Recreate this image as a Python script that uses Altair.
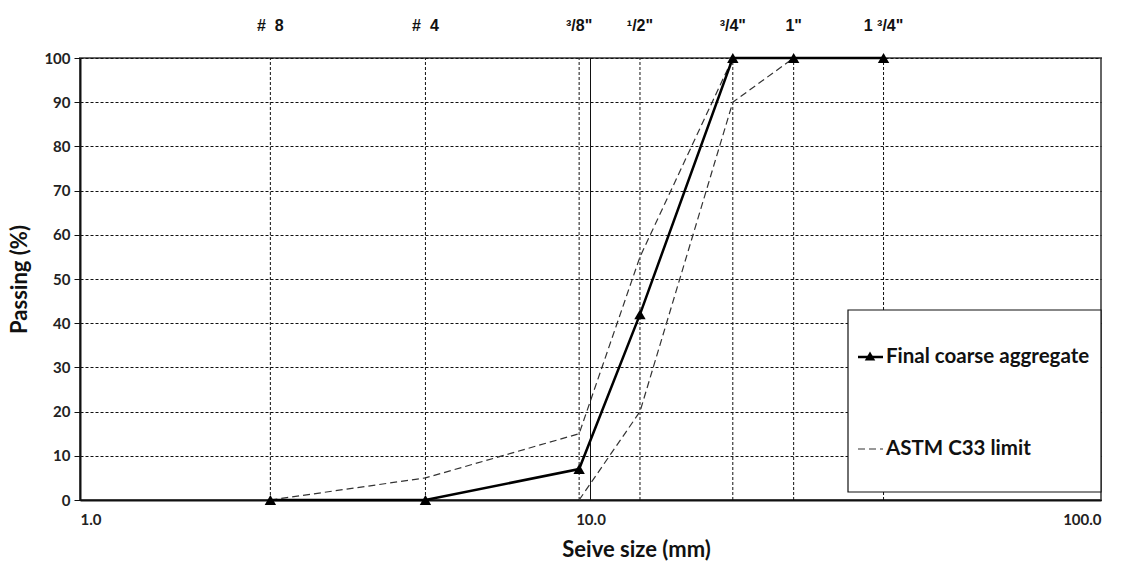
import altair as alt
import pandas as pd

# Sieve openings (mm) and the sieve names printed above the plot
sieve_mm = [2.36, 4.75, 9.5, 12.5, 19.0, 25.0, 37.5]
sieve_names = ["#\u00a0\u00a08", "#\u00a0\u00a04", "³/8\"", "¹/2\"", "³/4\"", "1\"", "1\u00a0³/4\""]

# Percent passing of the final coarse aggregate
passing = [0, 0, 7, 42, 100, 100, 100]

# ASTM C33 grading envelope
upper_mm = [2.36, 4.75, 9.5, 12.5, 19.0]
upper_pct = [0, 5, 15, 55, 100]
lower_mm = [9.5, 12.5, 19.0, 25.0]
lower_pct = [0, 20, 90, 100]

W, H = 1021, 442
FONT = "Lato"

sieves = pd.DataFrame({"size": sieve_mm, "name": sieve_names, "pct": passing})
limits = pd.concat([
    pd.DataFrame({"size": upper_mm, "pct": upper_pct, "bound": "upper"}),
    pd.DataFrame({"size": lower_mm, "pct": lower_pct, "bound": "lower"}),
])
one = pd.DataFrame({"k": [0]})

xs = alt.Scale(type="log", domain=[1, 100], nice=False)
ys = alt.Scale(domain=[0, 100], nice=False)

x_axis = alt.Axis(values=[1, 10, 100], format=".1f", ticks=False, grid=False,
                  labelPadding=12, labelFontSize=15, labelFontWeight="bold",
                  labelFont=FONT, labelColor="#222",
                  domainColor="#111", domainWidth=2,
                  title="Seive size (mm)", titleFont=FONT, titleFontSize=22,
                  titleFontWeight="bold", titlePadding=12, titleX=556,
                  titleColor="#111")
y_axis = alt.Axis(values=list(range(0, 101, 10)), tickSize=6, tickColor="#111",
                  labelPadding=4, labelFontSize=15, labelFontWeight="bold",
                  labelFont=FONT, labelColor="#222",
                  domainColor="#111", domainWidth=2,
                  grid=True, gridDash=[3, 2], gridColor="#111", gridWidth=1,
                  title="Passing (%)", titleFont=FONT, titleFontSize=22,
                  titleFontWeight="bold", titlePadding=12, titleColor="#111")

base = alt.Chart(sieves)

# Dashed vertical lines at each sieve size
sieve_rules = base.mark_rule(color="#111", strokeDash=[3, 2], strokeWidth=1).encode(
    x=alt.X("size:Q", scale=xs, axis=x_axis),
    y=alt.Y("y0:Q", scale=ys, axis=y_axis),
    y2="y1:Q",
).transform_calculate(y0="0", y1="100")

# Solid major log gridline at 10 mm
ten_rule = alt.Chart(one).mark_rule(color="#111", strokeWidth=1).encode(
    x=alt.datum(10, scale=xs), y=alt.datum(0, scale=ys), y2=alt.datum(100)
)

# Sieve labels above the plot
top_labels = base.mark_text(font="Liberation Sans", fontSize=16, fontWeight="bold",
                            color="#111", baseline="middle").encode(
    x=alt.X("size:Q", scale=xs), y=alt.value(-32), text="name:N"
)

limit_lines = alt.Chart(limits).mark_line(color="#333", strokeDash=[7, 4],
                                          strokeWidth=1.2).encode(
    x=alt.X("size:Q", scale=xs), y=alt.Y("pct:Q", scale=ys), detail="bound:N"
)

agg_line = base.mark_line(color="#000", strokeWidth=2.5).encode(
    x=alt.X("size:Q", scale=xs), y=alt.Y("pct:Q", scale=ys)
)
agg_pts = base.mark_point(shape="triangle-up", filled=True, color="#000",
                          size=130, opacity=1).encode(
    x=alt.X("size:Q", scale=xs), y=alt.Y("pct:Q", scale=ys)
)

# Legend box
leg = alt.Chart(one)
leg_box = leg.mark_rect(fill="white", stroke="#111", strokeWidth=1.2).encode(
    x=alt.value(768), x2=alt.value(W), y=alt.value(252), y2=alt.value(434)
)
leg_line1 = leg.mark_rule(color="#000", strokeWidth=2.5).encode(
    x=alt.value(778), x2=alt.value(803), y=alt.value(299)
)
leg_tri = leg.mark_point(shape="triangle-up", filled=True, color="#000",
                         size=110, opacity=1).encode(
    x=alt.value(790), y=alt.value(298)
)
leg_line2 = leg.mark_rule(color="#333", strokeWidth=1.2, strokeDash=[7, 4]).encode(
    x=alt.value(778), x2=alt.value(803), y=alt.value(391)
)
leg_txt1 = leg.mark_text(align="left", baseline="middle", font=FONT, fontSize=20.5,
                         fontWeight="bold", color="#111").encode(
    x=alt.value(806), y=alt.value(299), text=alt.value("Final coarse aggregate")
)
leg_txt2 = leg.mark_text(align="left", baseline="middle", font=FONT, fontSize=20.5,
                         fontWeight="bold", color="#111").encode(
    x=alt.value(806), y=alt.value(391), text=alt.value("ASTM C33 limit")
)

chart = alt.layer(
    sieve_rules, ten_rule, limit_lines, agg_line, agg_pts, top_labels,
    leg_box, leg_line1, leg_tri, leg_line2, leg_txt1, leg_txt2,
).properties(
    width=W, height=H,
    autosize=alt.AutoSizeParams(type="none"),
    padding={"left": 80, "top": 58, "right": 31, "bottom": 71},
    background="white",
).configure_view(stroke="#666", strokeWidth=2)

chart.save("out.html", embed_options={"renderer": "svg", "actions": False})
